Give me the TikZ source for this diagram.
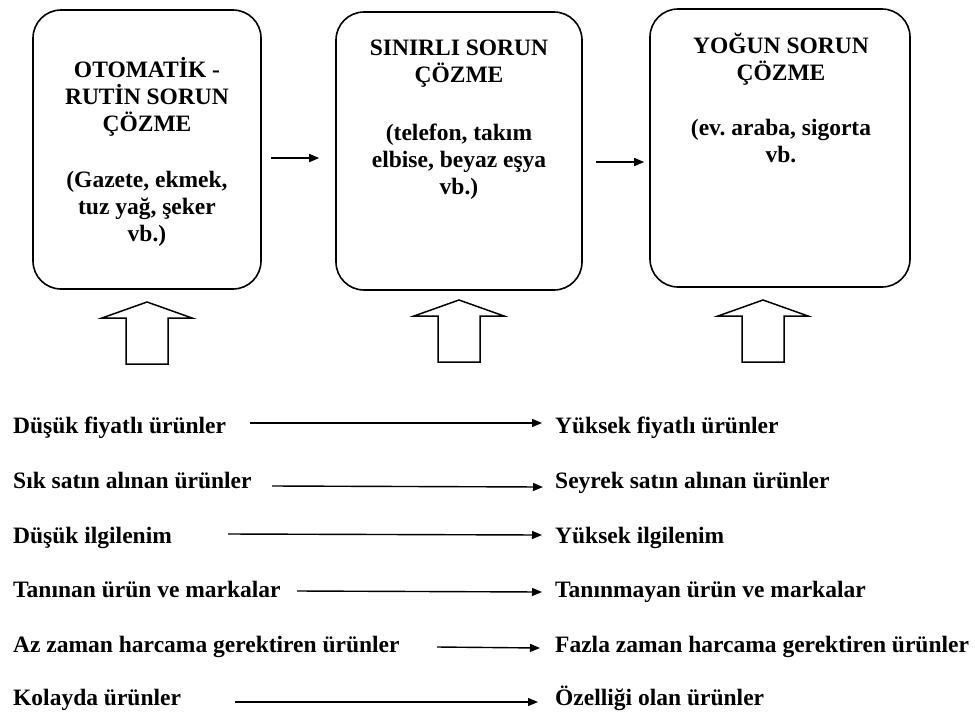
\documentclass[tikz,border=0pt]{standalone}
\usepackage{fontspec}
\setmainfont{Liberation Serif}
\usetikzlibrary{arrows.meta}
\newcommand\firstline{\rule{0pt}{22pt}}
\begin{document}
\frenchspacing
\begin{tikzpicture}[x=1pt,y=-1pt,
  stage/.style={draw,line width=1.6pt,rounded corners=28pt,inner sep=0pt},
  stagetext/.style={anchor=north,align=center,inner sep=0pt,
    font=\fontsize{23.5}{27}\selectfont\bfseries\frenchspacing},
  flow/.style={line width=1.6pt,-{Triangle[length=10pt,width=8pt]}},
  item/.style={anchor=base west,inner sep=0pt,
    font=\fontsize{23.5}{28}\selectfont\bfseries},
  trend/.style={line width=1.4pt,-{Triangle[length=10pt,width=8pt]}},
  uparrow/.style={draw,line width=1.5pt,line join=miter,fill=white},
  blockup/.pic={\draw[uparrow] (0,0) -- (45,16) -- (21,16) -- (21,62)
    -- (-21,62) -- (-21,16) -- (-45,16) -- cycle;}]
\useasboundingbox (0,0) rectangle (975,713);

% the three problem-solving stages
\node[stage,minimum width=228pt,minimum height=279pt] (b1) at (147,149.5) {};
\node[stage,minimum width=246pt,minimum height=278pt] (b2) at (459,151) {};
\node[stage,minimum width=260pt,minimum height=278pt] (b3) at (780,148) {};

\node[stagetext] (t1) at (147,55) {\firstline OTOMATİK -\\RUTİN SORUN\\ÇÖZME\\[29pt]
  (Gazete, ekmek,\\tuz yağ, şeker\\vb.)};
\node[stagetext] (t2) at (459,33) {\firstline SINIRLI SORUN\\ÇÖZME\\[31pt]
  (telefon, takım\\elbise, beyaz eşya\\vb.)};
\node[stagetext] (t3) at (781,31) {\firstline YOĞUN SORUN\\ÇÖZME\\[28pt]
  (ev. araba, sigorta\\vb.};

% stage-to-stage arrows, kept level
\draw[flow] ([xshift=9pt,yshift=-8.5pt]b1.east) -- ([xshift=-16pt,yshift=-7pt]b2.west);
\draw[flow] ([xshift=13pt,yshift=-11pt]b2.east) -- ([xshift=-5pt,yshift=-14pt]b3.west);

% hollow arrows under the stages
\pic at (147,302) {blockup};
\pic at (459,300) {blockup};
\pic at (763,300) {blockup};

% product characteristics, from one end to the other
\node[item] (l1) at (13,433) {Düşük fiyatlı ürünler};
\node[item] (l2) at (13,488) {Sık satın alınan ürünler};
\node[item] (l3) at (13,543) {Düşük ilgilenim};
\node[item] (l4) at (13,597) {Tanınan ürün ve markalar};
\node[item] (l5) at (13,652) {Az zaman harcama gerektiren ürünler};
\node[item] (l6) at (13,705) {Kolayda ürünler};

\node[item] (r1) at (555,433) {Yüksek fiyatlı ürünler};
\node[item] (r2) at (555,488) {Seyrek satın alınan ürünler};
\node[item] (r3) at (555,543) {Yüksek ilgilenim};
\node[item] (r4) at (555,597) {Tanınmayan ürün ve markalar};
\node[item] (r5) at (555,652) {Fazla zaman harcama gerektiren ürünler};
\node[item] (r6) at (555,705) {Özelliği olan ürünler};

\coordinate (s1) at (250,423);
\coordinate (s2) at (272,486);
\coordinate (s3) at (228,534);
\coordinate (s4) at (297,591);
\coordinate (s5) at (437,647);
\coordinate (s6) at (235,702);

\draw[trend] (s1) -- ([xshift=-13pt,yshift=10pt]r1.base west);
\draw[trend] (s2) -- ([xshift=-12pt,yshift=1pt]r2.base west);
\draw[trend] (s3) -- ([xshift=-13pt,yshift=8pt]r3.base west);
\draw[trend] (s4) -- ([xshift=-13pt,yshift=5pt]r4.base west);
\draw[trend] (s5) -- ([xshift=-15pt,yshift=4pt]r5.base west);
\draw[trend] (s6) -- ([xshift=-17pt,yshift=3pt]r6.base west);
\end{tikzpicture}
\end{document}
